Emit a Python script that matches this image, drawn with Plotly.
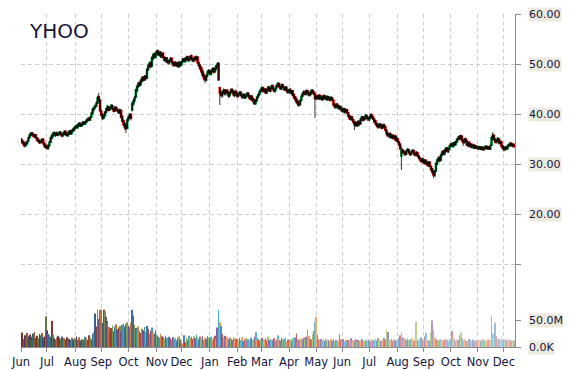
import pandas as pd
import plotly.graph_objects as go

# ---------------- data (prices in tenths of a dollar, volume in millions) ----------------
dates = pd.bdate_range("2014-06-02", "2015-12-11")

open_x10 = [
    350,347,344,341,337,341,346,353,357,362,359,355,358,352,349,346,343,347,349,341,337,  # Jun 14
    334,331,337,344,352,356,362,358,362,358,361,363,358,357,360,365,360,357,361,366,361,366,368,  # Jul
    372,376,373,378,381,376,379,384,380,384,387,391,388,394,401,409,413,416,422,434,427,  # Aug
    405,399,392,397,404,410,414,409,412,416,410,406,413,409,406,403,407,395,386,380,375,372,  # Sep
    389,395,399,408,420,427,434,447,456,462,459,466,473,469,475,472,489,497,502,496,511,519,514,  # Oct
    521,526,519,523,515,521,513,507,512,504,502,508,511,503,498,503,497,502,495,502,  # Nov
    499,505,510,505,511,514,507,511,516,509,507,513,510,513,502,497,492,486,479,474,468,477,483,  # Dec
    486,480,487,491,485,490,497,501,452,443,437,444,448,441,447,443,437,443,448,444,438,445,  # Jan 15
    441,436,441,443,437,434,438,433,438,441,436,431,435,430,426,421,427,434,439,445,  # Feb
    448,452,445,450,442,448,454,446,452,456,448,447,453,457,460,454,451,458,453,450,453,446,  # Mar
    444,449,442,446,439,434,430,425,422,419,428,436,440,444,440,446,442,438,441,447,444,440,  # Apr
    431,436,431,437,431,435,430,436,433,429,434,431,428,432,427,418,413,419,416,411,414,  # May
    409,406,410,404,408,402,396,390,394,388,384,378,383,377,384,381,389,394,389,391,396,392,  # Jun
    389,393,398,394,390,386,381,378,374,379,376,373,378,374,367,361,357,360,354,357,352,356,349,  # Jul
    350,344,339,316,328,325,323,320,327,328,322,320,325,326,320,318,322,316,312,308,305,  # Aug
    308,302,307,302,297,303,295,290,285,277,286,300,308,313,308,318,325,320,326,332,325,331,  # Sep
    336,340,335,342,339,344,349,354,351,355,347,343,350,346,337,343,335,339,334,337,332,335,  # Oct
    333,331,334,330,333,329,332,335,331,334,330,338,351,357,349,344,347,350,342,344,336,  # Nov
    333,329,333,331,336,338,341,337,339,  # Dec
]
high_x10 = [
    352,349,346,343,345,347,355,361,364,364,361,360,360,354,351,348,349,352,351,343,340,
    338,339,346,355,360,364,366,363,365,362,366,366,361,364,367,368,363,365,368,368,369,372,375,
    377,379,381,384,383,381,386,386,387,390,393,394,396,404,412,415,419,425,437,442,430,
    409,402,399,406,413,418,416,414,420,419,412,416,415,412,409,411,409,397,389,385,382,392,
    397,402,401,424,430,436,451,459,464,465,470,476,476,478,478,492,501,505,505,516,522,523,525,
    528,529,525,526,523,524,516,514,514,508,510,514,513,507,505,506,504,505,507,505,
    507,512,513,514,517,516,515,518,519,512,515,516,517,516,505,500,495,489,483,478,479,487,490,
    489,489,493,493,494,499,503,504,455,447,447,451,450,449,450,446,445,452,452,448,447,449,
    444,443,446,446,440,442,441,440,444,444,439,438,438,433,430,430,436,441,447,451,
    455,455,451,452,450,456,456,453,459,459,451,455,460,464,463,457,461,461,456,456,456,450,
    451,451,448,448,441,436,433,428,426,429,438,444,448,447,449,449,446,445,449,450,448,443,
    438,438,440,439,437,437,439,439,436,437,436,434,436,434,429,421,422,422,419,418,416,
    412,413,412,411,410,404,398,397,396,391,387,385,385,388,387,393,397,396,395,400,399,395,
    396,401,401,397,392,388,384,381,382,382,379,381,381,377,370,364,362,364,360,360,358,359,356,
    352,347,342,335,331,328,326,329,332,331,325,327,330,329,324,326,325,319,315,312,313,
    311,310,309,305,306,305,297,292,287,288,304,311,315,315,321,327,328,330,334,334,333,339,
    342,343,344,345,347,352,356,358,359,358,350,352,353,349,345,345,342,341,340,340,338,338,
    336,337,336,335,336,335,337,337,336,336,339,356,364,359,351,350,354,352,348,347,339,
    336,336,335,339,341,344,343,341,341,
]
low_x10 = [
    344,340,335,333,336,339,344,351,356,356,353,352,350,345,342,340,341,343,339,332,331,
    329,329,335,342,349,353,356,354,356,355,358,357,353,354,357,357,355,354,358,358,359,363,365,
    369,371,371,375,374,374,377,378,378,382,385,386,386,392,399,405,410,414,420,424,403,
    394,388,389,394,401,406,405,406,409,408,403,404,406,403,400,400,391,383,376,368,362,370,
    385,391,387,405,417,423,432,444,452,454,456,463,465,466,467,470,486,493,491,494,508,511,511,
    517,516,516,512,512,510,505,504,502,499,499,504,501,495,494,495,494,492,493,494,
    496,502,503,503,507,505,504,507,507,504,503,505,507,500,494,488,481,474,467,462,465,474,480,
    477,477,484,481,482,487,492,466,418,433,433,440,437,437,440,432,433,440,441,435,433,436,
    432,433,437,435,430,431,430,430,435,432,428,427,425,420,418,419,424,431,436,441,
    444,443,443,440,440,445,444,443,449,447,443,443,450,454,452,448,448,451,446,446,443,440,
    441,440,439,436,431,426,421,416,414,417,425,433,437,437,437,440,435,435,438,441,438,392,
    428,429,429,428,428,426,428,430,427,426,428,425,425,426,416,411,411,413,409,409,406,
    403,403,401,401,400,393,388,387,386,381,368,374,374,375,377,378,386,385,386,389,390,386,
    386,390,391,388,382,378,374,370,371,373,369,370,371,365,357,353,353,350,351,349,349,345,344,
    343,336,328,288,322,319,316,318,325,320,316,317,323,318,315,315,314,310,305,302,302,
    300,298,298,295,294,293,286,280,272,275,284,298,305,303,305,315,318,317,323,323,322,328,
    333,334,333,336,337,342,347,348,349,345,336,341,343,336,333,334,333,331,331,330,330,330,
    328,329,328,327,327,327,330,329,329,328,328,336,348,346,341,341,344,339,339,333,329,
    325,327,328,329,334,335,335,334,333,
]
close_x10 = [
    348,343,340,337,342,345,352,358,361,359,356,358,353,348,346,343,346,349,341,336,334,
    332,337,343,352,357,361,359,362,358,360,363,359,357,361,364,360,358,362,365,361,366,369,372,
    375,373,378,381,376,379,383,380,384,387,390,388,393,401,409,412,416,421,432,428,407,
    398,392,397,404,410,415,408,412,417,411,406,413,409,407,403,408,394,386,379,374,371,388,
    394,398,392,421,426,432,448,455,461,458,467,472,468,474,471,489,497,501,495,512,518,515,521,
    525,519,522,516,520,514,508,511,505,503,507,510,504,499,502,498,501,496,503,499,
    504,509,506,511,513,508,512,515,510,507,512,509,514,503,497,491,485,478,472,469,476,484,487,
    481,486,490,484,491,496,500,469,442,438,443,447,441,446,444,437,442,448,445,439,444,441,
    436,440,443,438,434,439,433,437,441,436,432,435,429,426,421,427,433,438,444,448,
    452,446,449,443,448,453,447,451,456,449,446,452,457,461,455,451,458,454,449,453,447,444,
    448,443,445,438,433,429,424,421,418,427,435,441,444,440,446,443,438,442,447,444,441,431,
    435,432,437,430,434,429,436,433,430,435,431,428,433,429,418,414,419,416,412,415,409,
    406,410,404,408,403,396,391,394,389,384,379,382,377,385,381,390,394,388,392,397,393,389,
    393,398,394,390,385,381,377,374,379,376,372,378,374,368,361,357,359,354,356,352,355,349,353,
    345,339,331,327,325,322,319,326,329,323,319,324,327,321,318,323,317,313,309,306,310,
    303,307,301,298,304,296,289,284,278,285,301,308,312,307,318,324,321,327,331,326,330,336,
    339,336,342,338,344,349,353,351,356,347,343,349,345,338,342,336,339,334,337,332,335,333,
    331,334,330,333,329,332,335,331,334,330,336,352,358,349,344,347,351,342,345,336,332,
    329,333,331,336,338,341,337,339,335,
]
volume_m = [
    24,27,15,22,18,26,20,23,13,19,25,28,17,21,16,24,22,26,18,20,57,
    31,24,22,19,48,23,16,14,18,21,17,15,19,13,16,14,18,12,15,13,17,14,11,
    16,20,13,18,12,15,14,11,19,16,13,22,17,14,24,28,62,38,69,52,69,
    69,45,69,66,56,48,37,31,35,40,29,38,42,33,36,39,30,41,44,38,42,46,
    40,37,45,69,58,41,35,33,38,29,26,34,31,37,28,39,33,25,30,36,27,24,31,
    22,19,17,24,20,18,15,21,17,14,19,16,13,18,15,17,12,16,20,14,
    8,6,22,9,18,14,21,17,19,15,20,16,23,18,14,19,16,21,13,17,15,20,18,
    16,19,14,17,21,15,36,69,46,39,24,18,21,16,19,14,17,15,13,18,16,14,
    15,12,17,13,18,11,14,16,12,15,13,17,12,14,19,28,13,15,12,14,
    17,11,14,16,12,19,13,15,14,12,16,11,13,22,14,12,17,15,13,16,11,14,
    13,15,12,16,14,18,25,15,13,12,16,14,17,15,19,32,21,15,14,24,30,47,
    56,22,14,13,15,12,16,11,14,12,13,11,15,12,14,10,13,11,12,24,14,
    12,15,11,14,10,13,12,16,11,13,12,14,10,13,11,12,15,10,11,13,12,14,
    12,10,14,11,13,15,12,16,14,11,13,12,17,14,32,28,12,13,15,11,14,13,12,
    14,17,22,28,18,17,15,13,16,14,12,15,17,11,13,47,12,14,15,18,13,
    16,20,26,14,13,12,27,49,32,18,15,13,12,14,11,13,12,14,15,13,12,16,
    14,30,13,15,11,14,13,22,28,16,12,14,13,11,12,15,13,12,14,11,13,12,
    12,13,11,14,12,13,11,15,12,14,13,57,25,16,45,20,14,15,12,16,13,
    14,12,13,15,12,14,11,13,12,
]
ticker = "YHOO"
price_ticks = [10, 20, 30, 40, 50, 60]
price_labels = ["20.00", "30.00", "40.00", "50.00", "60.00"]
volume_ticks = [0, 50e6]
volume_labels = ["0.0K", "50.0M"]

n = len(dates)
for name, arr in [("open", open_x10), ("high", high_x10), ("low", low_x10),
                  ("close", close_x10), ("volume", volume_m)]:
    assert len(arr) == n, (name, len(arr), n)

o = [v / 10 for v in open_x10]
c = [v / 10 for v in close_x10]
h = [max(a, b, v / 10) for a, b, v in zip(o, c, high_x10)]
l = [min(a, b, v / 10) for a, b, v in zip(o, c, low_x10)]
body_hi = [max(a, b) for a, b in zip(o, c)]
body_lo = [min(a, b) for a, b in zip(o, c)]
vol = [v * 1e6 for v in volume_m]

# ---------------- style ----------------
W, H = 570, 370
ML, MR, MT, MB = 21, 55, 14, 23
PW, PH = W - ML - MR, H - MT - MB
split = (H - MB - 290) / PH          # boundary between price and volume panes
NAVY = "#16163c"
GRID = "#cdcdcd"
AX = "#8c8c8c"
FONT = "DejaVu Sans"
UP = "#00b050"
DOWN = "#ff0000"

palette = [(79, 129, 189), (192, 80, 77), (155, 187, 89),
           (128, 100, 162), (75, 172, 198), (247, 150, 70)]
vcolors = []
for i in range(n):
    r, g, b = palette[i % len(palette)]
    t = i / (n - 1)
    k = -0.4 + 1.05 * t
    if k < 0:
        f = 1 + k
        r, g, b = r * f, g * f, b * f
    else:
        r, g, b = r + (255 - r) * k * 0.75, g + (255 - g) * k * 0.75, b + (255 - b) * k * 0.75
    vcolors.append(f"rgb({int(r)},{int(g)},{int(b)})")

month_starts = [d for i, d in enumerate(dates) if i == 0 or d.month != dates[i - 1].month]
month_text = [d.strftime("%b") for d in month_starts]
xrange_ = ["2014-06-02 00:00", "2015-12-11 23:59"]
breaks = [dict(bounds=["sat", "mon"])]

fig = go.Figure()
# coloured bodies (drawn first, a little wider)
fig.add_trace(go.Candlestick(
    x=dates, open=o, high=body_hi, low=body_lo, close=c, xaxis="x", yaxis="y",
    increasing=dict(line=dict(color=UP, width=2), fillcolor=UP),
    decreasing=dict(line=dict(color=DOWN, width=2), fillcolor=DOWN),
    whiskerwidth=0, showlegend=False, hoverinfo="skip"))
# black wicks on top
fig.add_trace(go.Candlestick(
    x=dates, open=o, high=h, low=l, close=c, xaxis="x", yaxis="y",
    increasing=dict(line=dict(color="#000000", width=0.8), fillcolor="rgba(0,0,0,0)"),
    decreasing=dict(line=dict(color="#000000", width=0.8), fillcolor="rgba(0,0,0,0)"),
    whiskerwidth=0, showlegend=False, hoverinfo="skip"))
fig.add_trace(go.Bar(
    x=dates, y=vol, xaxis="x2", yaxis="y2",
    marker=dict(color=vcolors, line=dict(width=0)), showlegend=False, hoverinfo="skip"))

common_x = dict(range=xrange_, rangebreaks=breaks, tickmode="array",
                tickvals=month_starts, showgrid=True, gridcolor=GRID,
                griddash="4px,3px", gridwidth=1, zeroline=False,
                rangeslider=dict(visible=False))

fig.update_layout(
    width=W, height=H,
    margin=dict(l=ML, r=MR, t=MT, b=MB, autoexpand=False),
    paper_bgcolor="white", plot_bgcolor="white",
    bargap=0.4,
    xaxis=dict(**common_x, anchor="y", domain=[0, 1], showticklabels=False,
               ticks="", showline=False, matches="x2"),
    xaxis2=dict(**common_x, anchor="y2", domain=[0, 1], ticktext=month_text,
                showticklabels=True, tickangle=0, ticks="outside", ticklen=4,
                tickcolor=AX, showline=True, linecolor=AX, linewidth=1,
                tickfont=dict(family=FONT, size=11.5, color=NAVY)),
    yaxis=dict(domain=[split, 1], range=[4.8, 60], side="right", anchor="x",
               tickmode="array", tickvals=price_ticks, showticklabels=False,
               ticks="outside", ticklen=5, tickcolor=AX,
               showline=True, linecolor=AX, linewidth=1,
               showgrid=True, gridcolor=GRID, griddash="4px,3px", zeroline=False),
    yaxis2=dict(domain=[0, split], range=[0, 105.6e6], side="right", anchor="x2",
                tickmode="array", tickvals=volume_ticks, showticklabels=False,
                ticks="outside", ticklen=5, tickcolor=AX,
                showline=True, linecolor=AX, linewidth=1,
                showgrid=False, zeroline=False),
)

label_x = (528 - ML) / PW
annotations = []
for v, txt in zip(price_ticks[1:], price_labels):
    annotations.append(dict(text=txt, xref="paper", x=label_x, xanchor="left",
                            yref="y", y=v, yanchor="middle", showarrow=False,
                            bgcolor="#edebdf", borderpad=0,
                            font=dict(family=FONT, size=11, color=NAVY)))
for v, txt in zip(volume_ticks, volume_labels):
    annotations.append(dict(text=txt, xref="paper", x=label_x, xanchor="left",
                            yref="y2", y=v, yanchor="middle", showarrow=False,
                            bgcolor="#edebdf", borderpad=0,
                            font=dict(family=FONT, size=11, color=NAVY)))
annotations.append(dict(text=ticker, xref="paper", x=(27 - ML) / PW, xanchor="left",
                        yref="paper", y=(H - MB - 30.5) / PH, yanchor="middle",
                        showarrow=False, font=dict(family=FONT, size=20, color=NAVY)))
fig.update_layout(annotations=annotations)

fig.write_html("out.html")
